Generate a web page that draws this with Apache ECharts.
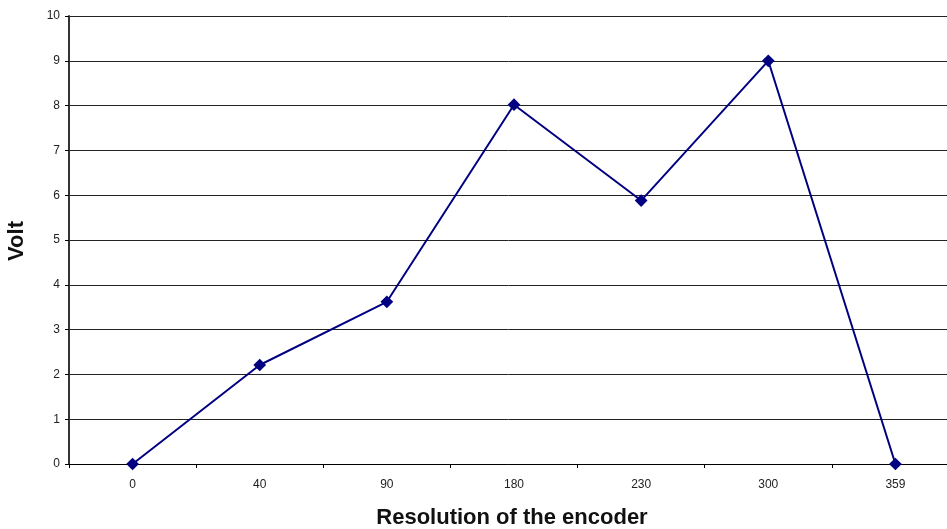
<!DOCTYPE html>
<html>
<head>
<meta charset="utf-8">
<script src="https://cdn.jsdelivr.net/npm/echarts@6/dist/echarts.min.js"></script>
<style>
  html, body { margin: 0; padding: 0; background: #fff; }
  #chart { width: 947px; height: 529px; }
</style>
</head>
<body>
<div id="chart"></div>
<script>
    // encoder positions and measured voltage
    const positions = ['0', '40', '90', '180', '230', '300', '359'];
    const volts = [0, 2.21, 3.62, 8.02, 5.88, 9.0, 0];
    const yTicks = [0, 10, 1]; // min, max, step

    const myChart = echarts.init(document.getElementById('chart'));
    const font = 'Liberation Sans, Arial, sans-serif';

    const option = {
        animation: false,
        grid: {
            left: 69,
            top: 16,
            width: 890,
            height: 448,
            outerBoundsMode: 'none'
        },
        xAxis: {
            type: 'category',
            data: positions,
            boundaryGap: true,
            axisLine: { lineStyle: { color: '#000', width: 1 } },
            axisTick: { show: true, length: 4, inside: false, lineStyle: { color: '#000' } },
            axisLabel: { color: '#222', fontSize: 12, fontFamily: font, margin: 15 },
            splitLine: { show: false }
        },
        yAxis: {
            type: 'value',
            min: yTicks[0],
            max: yTicks[1],
            interval: yTicks[2],
            axisLine: { show: true, lineStyle: { color: '#333', width: 2 } },
            axisTick: { show: true, length: 4, lineStyle: { color: '#000' } },
            axisLabel: { color: '#222', fontSize: 12, fontFamily: font, margin: 9 },
            splitLine: { show: true, lineStyle: { color: '#222', width: 1 } }
        },
        graphic: [
            {
                type: 'text',
                x: 512,
                y: 518,
                style: {
                    text: 'Resolution of the encoder',
                    fontSize: 22,
                    fontWeight: 'bold',
                    fontFamily: font,
                    fill: '#111',
                    textAlign: 'center',
                    textVerticalAlign: 'middle'
                }
            },
            {
                type: 'text',
                x: 17,
                y: 241,
                rotation: Math.PI / 2,
                style: {
                    text: 'Volt',
                    fontSize: 22,
                    fontWeight: 'bold',
                    fontFamily: font,
                    fill: '#111',
                    textAlign: 'center',
                    textVerticalAlign: 'middle'
                }
            }
        ],
        series: [
            {
                name: 'Volt',
                type: 'line',
                data: volts,
                symbol: 'rect',
                symbolSize: 9,
                symbolRotate: 45,
                itemStyle: { color: '#000080' },
                lineStyle: { color: '#000080', width: 2 }
            }
        ]
    };
    myChart.setOption(option);
</script>
</body>
</html>
